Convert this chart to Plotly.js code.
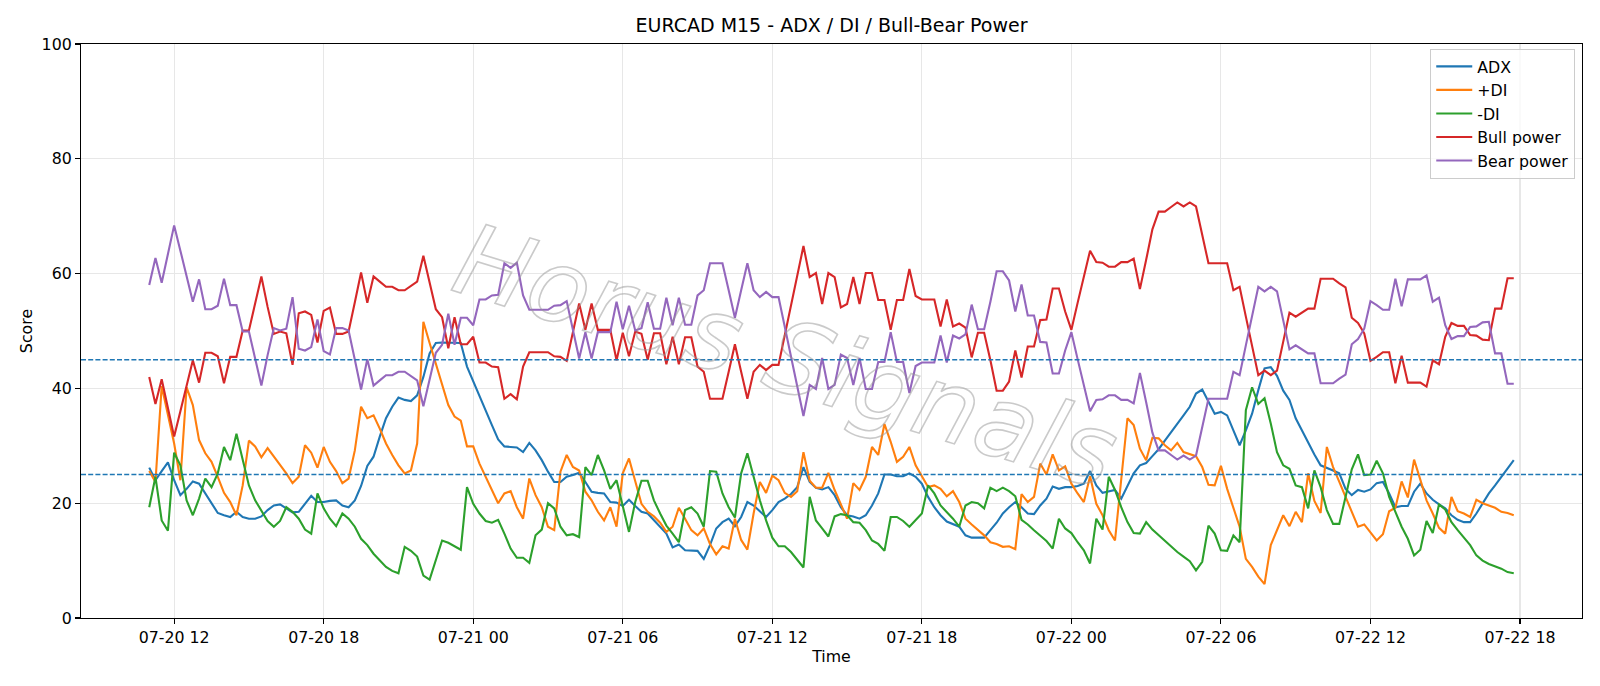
<!DOCTYPE html>
<html>
<head>
<meta charset="utf-8">
<script src="https://cdn.plot.ly/plotly-3.0.1.min.js"></script>
<style>
  html, body { margin: 0; padding: 0; background: #fff; }
  #chart { width: 1600px; height: 686px; }
</style>
</head>
<body>
<div id="chart"></div>
<script>
// EURCAD M15 indicator readings, one value per 15-minute bar
const startTime = '2025-07-20T11:00:00Z';
const stepMinutes = 15;

const adx = [
  26.2, 24.0, 25.6, 27.1, 24.0, 21.4, 22.5, 23.8, 23.4, 21.7, 19.9, 18.3, 17.9, 17.6, 18.5, 17.6, 17.3, 17.3, 17.7, 18.8,
  19.6, 19.8, 19.1, 18.4, 18.5, 19.9, 21.3, 20.2, 20.2, 20.4, 20.5, 19.6, 19.3, 20.5, 23.0, 26.5,
  28.1, 31.6, 34.8, 36.8, 38.4, 38.0, 37.8, 38.8, 42.0, 46.1, 47.9, 48.0, 48.0, 48.0, 47.9, 43.8, 41.2, 38.5, 36.2, 33.6,
  31.1, 29.9, 29.8, 29.7, 28.9, 30.5, 29.2, 27.5, 25.5, 23.7, 23.7, 24.6, 24.9, 25.3, 23.7, 22.0, 21.8,
  21.7, 20.2, 20.1, 19.5, 20.6, 19.5, 18.5, 18.2, 17.0, 15.9, 14.7, 12.3, 12.8, 11.8, 11.7, 11.7, 10.3, 12.7, 15.6, 16.7,
  17.3, 16.0, 17.6, 20.2, 19.6, 18.6, 17.6, 18.8, 20.2, 20.8, 21.6, 22.8, 26.3, 23.7, 22.7, 22.4, 22.8,
  21.4, 19.3, 17.9, 17.7, 17.3, 17.9, 19.6, 21.7, 25.0, 25.0, 24.7, 24.7, 25.2, 24.6, 23.4, 21.1, 19.3, 17.9, 16.8, 16.4,
  15.9, 14.4, 14.0, 14.0, 14.0, 15.3, 16.6, 18.2, 19.3, 20.2, 19.3, 18.2, 18.1, 19.6, 20.8, 22.9, 22.5,
  22.8, 22.8, 23.0, 23.4, 25.6, 23.1, 21.8, 22.1, 22.3, 20.8, 23.1, 25.2, 26.6, 27.0, 28.2, 29.4, 30.9, 32.3, 33.8, 35.3,
  36.8, 39.1, 39.8, 37.7, 35.6, 35.9, 35.3, 32.7, 30.1, 32.7, 35.6, 39.7, 43.5, 43.7, 42.2, 39.6,
  38.0, 34.8, 32.6, 30.5, 28.5, 26.6, 26.2, 25.7, 25.2, 22.5, 21.4, 22.3, 22.0, 22.4, 23.5, 23.7, 21.7, 19.3, 19.5, 19.5,
  22.0, 23.4, 21.7, 20.6, 19.8, 19.1, 17.9, 17.1, 16.7, 16.7, 18.2, 20.0, 21.7, 23.1, 24.6, 26.0, 27.5
];

const plusDI = [
  25.6, 23.7, 40.4, 35.6, 30.4, 24.0, 40.2, 37.1, 31.0, 28.7, 27.2, 24.6, 21.8, 20.2, 17.9, 23.1, 30.9, 29.9, 28.0, 29.6,
  28.2, 26.8, 25.2, 23.5, 24.6, 30.1, 28.8, 26.2, 29.8, 27.2, 25.6, 23.5, 24.3, 29.2, 36.8, 34.8,
  35.3, 33.0, 30.4, 28.4, 26.6, 25.2, 25.7, 30.4, 51.6, 47.9, 44.4, 40.9, 37.1, 35.1, 34.4, 29.9, 29.9, 26.9, 24.6, 22.5,
  20.0, 21.7, 22.1, 19.3, 17.3, 24.3, 21.4, 19.3, 15.9, 15.3, 25.5, 28.4, 26.3, 25.7, 22.0, 20.5, 18.5,
  17.0, 19.3, 15.9, 25.2, 27.8, 24.0, 19.9, 18.5, 17.7, 16.6, 15.0, 15.9, 19.2, 17.3, 15.3, 14.4, 15.6, 12.9, 11.1, 12.5,
  12.1, 17.3, 13.6, 11.9, 18.2, 23.7, 21.8, 24.8, 24.0, 21.8, 21.1, 22.1, 28.9, 23.9, 22.7, 22.7, 25.3,
  22.3, 19.9, 17.3, 23.5, 22.3, 24.6, 29.8, 28.4, 33.8, 30.7, 27.2, 28.1, 29.8, 26.6, 24.6, 22.8, 23.1, 22.5, 21.2, 22.1,
  20.2, 17.3, 16.3, 15.3, 14.4, 13.2, 12.9, 12.4, 12.5, 12.0, 21.6, 20.2, 21.1, 26.9, 25.0, 28.5, 25.7,
  26.4, 23.4, 21.7, 20.2, 24.7, 19.9, 17.9, 15.3, 13.5, 24.0, 34.8, 33.6, 29.5, 27.5, 31.4, 31.3, 30.1, 29.2, 30.5, 28.9,
  28.5, 28.2, 26.3, 23.2, 23.1, 26.5, 22.5, 19.3, 15.9, 10.3, 8.9, 7.2, 5.9, 12.7, 15.3, 17.9,
  16.0, 18.5, 16.7, 25.2, 20.4, 18.3, 29.8, 26.3, 23.7, 21.1, 18.2, 15.9, 16.3, 15.0, 13.5, 14.6, 18.6, 19.2, 23.8, 21.0,
  27.6, 24.1, 20.5, 18.2, 15.7, 14.7, 21.1, 18.6, 18.2, 17.6, 20.6, 20.0, 19.6, 19.2, 18.5, 18.3, 17.9
];

const minusDI = [
  19.3, 24.6, 17.0, 15.2, 28.8, 26.6, 20.5, 17.9, 20.8, 24.3, 22.8, 25.2, 29.8, 27.5, 32.1, 27.5, 23.1, 20.5, 18.8, 16.9,
  15.9, 16.9, 19.3, 18.5, 17.3, 15.4, 14.7, 21.7, 19.1, 17.3, 16.0, 18.2, 17.3, 15.9, 13.8, 12.7,
  11.2, 10.0, 8.9, 8.2, 7.8, 12.4, 11.7, 10.7, 7.4, 6.7, 10.3, 13.5, 13.1, 12.5, 11.9, 22.8, 19.9, 18.2, 16.9, 16.6,
  17.1, 14.7, 12.1, 10.5, 10.5, 9.6, 14.4, 15.4, 20.0, 19.1, 15.9, 14.4, 14.6, 14.1, 26.3, 24.9, 28.4,
  25.7, 22.5, 24.0, 19.3, 15.0, 20.2, 23.9, 23.9, 20.5, 18.2, 16.1, 14.7, 13.2, 18.8, 19.3, 18.2, 15.9, 25.6, 25.5, 21.7,
  19.3, 17.5, 25.2, 28.7, 24.6, 20.5, 17.0, 14.0, 12.5, 12.5, 11.5, 10.2, 8.8, 21.1, 17.0, 15.6, 14.2,
  17.7, 18.1, 17.9, 16.7, 16.6, 15.3, 13.5, 12.9, 11.7, 17.6, 17.6, 16.9, 15.9, 17.1, 18.2, 23.1, 21.7, 19.6, 18.5, 17.3,
  15.9, 19.6, 20.2, 20.0, 19.1, 22.7, 22.1, 22.7, 22.1, 21.2, 17.1, 16.3, 15.3, 14.4, 13.4, 12.1, 17.3,
  15.6, 14.8, 13.2, 11.8, 9.5, 17.3, 15.4, 24.6, 22.3, 19.3, 16.7, 14.8, 14.7, 16.7, 15.4, 14.4, 13.4, 12.4, 11.5, 10.7,
  9.9, 8.3, 9.8, 16.1, 14.7, 11.8, 11.7, 14.4, 13.2, 36.2, 40.2, 37.3, 38.3, 33.9, 28.9, 26.6,
  26.0, 23.1, 22.8, 19.1, 25.7, 22.8, 18.8, 16.4, 16.4, 21.1, 25.9, 28.5, 24.9, 25.0, 27.4, 25.2, 21.1, 18.5, 15.9, 13.8,
  10.9, 11.9, 16.9, 14.8, 19.8, 18.9, 16.7, 15.3, 14.0, 12.7, 10.9, 10.0, 9.4, 9.0, 8.6, 8.0, 7.8
];

const bullPower = [
  42.0, 37.3, 41.6, 36.6, 31.6, 36.0, 40.5, 44.9, 41.0, 46.2, 46.2, 45.6, 40.9, 45.5, 45.5, 50.1, 50.1, 54.8, 59.5, 54.2,
  49.5, 49.9, 49.6, 44.1, 53.1, 53.4, 52.8, 48.0, 53.5, 54.1, 49.5, 49.5, 49.9, 55.0, 60.2, 54.9,
  59.5, 58.6, 57.7, 57.7, 57.1, 57.1, 57.8, 58.6, 63.1, 58.3, 53.8, 52.4, 47.0, 52.4, 47.7, 47.7, 49.0, 44.5, 44.5, 43.8,
  43.7, 38.2, 39.0, 38.1, 43.8, 46.3, 46.3, 46.3, 46.3, 45.6, 45.5, 44.8, 49.6, 54.8, 50.2, 54.8, 50.2,
  50.2, 50.2, 44.9, 49.7, 45.6, 49.9, 49.5, 45.0, 49.6, 49.6, 44.2, 49.0, 44.2, 48.9, 48.9, 43.8, 42.9, 38.2, 38.2, 38.2,
  42.9, 47.7, 42.9, 38.2, 42.9, 44.1, 43.2, 44.1, 44.1, 49.2, 54.3, 59.5, 64.8, 59.4, 60.1, 54.7, 60.1,
  59.4, 54.1, 54.7, 59.4, 54.7, 60.1, 60.1, 55.4, 55.4, 50.2, 55.4, 55.4, 60.8, 56.1, 55.5, 55.5, 55.5, 50.8, 55.5, 50.8,
  51.3, 50.6, 45.4, 49.7, 49.7, 44.9, 39.6, 39.6, 41.2, 46.6, 41.9, 47.3, 47.3, 51.9, 52.0, 57.4, 57.4,
  53.4, 50.2, 54.9, 59.4, 64.0, 62.0, 61.9, 61.2, 61.2, 62.0, 62.0, 62.6, 57.3, 62.4, 67.7, 70.8, 70.8, 71.6, 72.4, 71.7,
  72.4, 71.7, 66.7, 61.8, 61.8, 61.8, 61.8, 57.1, 57.7, 52.5, 47.3, 42.3, 43.1, 42.3, 43.1, 48.4,
  53.2, 52.5, 53.2, 53.9, 53.9, 59.1, 59.1, 59.1, 58.3, 57.6, 52.3, 51.4, 49.6, 44.8, 45.5, 46.3, 46.3, 40.9, 45.7, 41.0,
  41.0, 41.0, 40.3, 44.9, 44.2, 49.0, 51.4, 50.9, 50.9, 49.3, 49.2, 48.5, 48.4, 53.9, 53.9, 59.2, 59.2
];

const bearPower = [
  58.0, 62.7, 58.4, 63.4, 68.4, 64.0, 59.5, 55.1, 59.0, 53.8, 53.8, 54.4, 59.1, 54.5, 54.5, 49.9, 49.9, 45.2, 40.5, 45.8,
  50.5, 50.1, 50.4, 55.9, 46.9, 46.6, 47.2, 52.0, 46.5, 45.9, 50.5, 50.5, 50.1, 45.0, 39.8, 45.1,
  40.5, 41.4, 42.3, 42.3, 42.9, 42.9, 42.2, 41.4, 36.9, 41.7, 46.2, 47.6, 53.0, 47.6, 52.3, 52.3, 51.0, 55.5, 55.5, 56.2,
  56.3, 61.8, 61.0, 61.9, 56.2, 53.7, 53.7, 53.7, 53.7, 54.4, 54.5, 55.2, 50.4, 45.2, 49.8, 45.2, 49.8,
  49.8, 49.8, 55.1, 50.3, 54.4, 50.1, 50.5, 55.0, 50.4, 50.4, 55.8, 51.0, 55.8, 51.1, 51.1, 56.2, 57.1, 61.8, 61.8, 61.8,
  57.1, 52.3, 57.1, 61.8, 57.1, 55.9, 56.8, 55.9, 55.9, 50.8, 45.7, 40.5, 35.2, 40.6, 39.9, 45.3, 39.9,
  40.6, 45.9, 45.3, 40.6, 45.3, 39.9, 39.9, 44.6, 44.6, 49.8, 44.6, 44.6, 39.2, 43.9, 44.5, 44.5, 44.5, 49.2, 44.5, 49.2,
  48.7, 49.4, 54.6, 50.3, 50.3, 55.1, 60.4, 60.4, 58.8, 53.4, 58.1, 52.7, 52.7, 48.1, 48.0, 42.6, 42.6,
  46.6, 49.8, 45.1, 40.6, 36.0, 38.0, 38.1, 38.8, 38.8, 38.0, 38.0, 37.4, 42.7, 37.6, 32.3, 29.2, 29.2, 28.4, 27.6, 28.3,
  27.6, 28.3, 33.3, 38.2, 38.2, 38.2, 38.2, 42.9, 42.3, 47.5, 52.7, 57.7, 56.9, 57.7, 56.9, 51.6,
  46.8, 47.5, 46.8, 46.1, 46.1, 40.9, 40.9, 40.9, 41.7, 42.4, 47.7, 48.6, 50.4, 55.2, 54.5, 53.7, 53.7, 59.1, 54.3, 59.0,
  59.0, 59.0, 59.7, 55.1, 55.8, 51.0, 48.6, 49.1, 49.1, 50.7, 50.8, 51.5, 51.6, 46.1, 46.1, 40.8, 40.8
];

// Reference levels drawn as dashed horizontal lines
const thresholds = [45, 25];

const seriesNames = ['ADX', '+DI', '-DI', 'Bull power', 'Bear power'];
const seriesColors = ['#1f77b4', '#ff7f0e', '#2ca02c', '#d62728', '#9467bd'];
const seriesValues = [adx, plusDI, minusDI, bullPower, bearPower];

// Bar timestamps on the 15-minute grid
function pad(n) { return String(n).padStart(2, '0'); }
const t0 = Date.parse(startTime);
function iso(ms) {
  const d = new Date(ms);
  return d.getUTCFullYear() + '-' + pad(d.getUTCMonth() + 1) + '-' + pad(d.getUTCDate()) +
    ' ' + pad(d.getUTCHours()) + ':' + pad(d.getUTCMinutes()) + ':' + pad(d.getUTCSeconds());
}
const times = adx.map((_, i) => iso(t0 + i * stepMinutes * 60000));

const traces = seriesValues.map((vals, k) => ({
  x: times,
  y: vals,
  type: 'scatter',
  mode: 'lines',
  name: seriesNames[k],
  legendgroup: 'g' + k,
  line: { color: seriesColors[k], width: 2.1 },
  hoverinfo: 'x+y+name'
}));

// pad the time axis by 5% of the span on each side
const spanMs = (times.length - 1) * stepMinutes * 60000;
const tStart = t0 - 0.05 * spanMs;
const tEnd = t0 + spanMs + 0.05 * spanMs;

const shapes = thresholds.map(v => ({
  type: 'line', xref: 'paper', x0: 0, x1: 1, yref: 'y', y0: v, y1: v,
  line: { color: '#1f77b4', width: 1.4, dash: '5px,2.2px' }, layer: 'above'
}));

const font = { family: 'DejaVu Sans, sans-serif', size: 15.8, color: '#000' };

const layout = {
  width: 1600,
  height: 686,
  margin: { l: 80.6, r: 18.4, t: 43.5, b: 68 },
  paper_bgcolor: '#fff',
  plot_bgcolor: '#fff',
  font: font,
  title: {
    text: 'EURCAD M15 - ADX / DI / Bull-Bear Power',
    font: { family: 'DejaVu Sans, sans-serif', size: 19, color: '#000' },
    x: 0.5, xref: 'paper', xanchor: 'center',
    y: 1 - 25 / 686, yref: 'container', yanchor: 'middle'
  },
  xaxis: {
    type: 'date',
    range: [iso(tStart), iso(tEnd)],
    tickformat: '%m-%d %H',
    tick0: '2025-07-20 00:00',
    dtick: 6 * 3600 * 1000,
    showgrid: true, gridcolor: '#e7e7e7', gridwidth: 1.1,
    showline: true, mirror: true, linecolor: '#000', linewidth: 1.1,
    ticks: 'outside', ticklen: 5, tickwidth: 1.1, tickcolor: '#000',
    zeroline: false,
    title: { text: 'Time', font: font, standoff: 4 },
    automargin: false
  },
  yaxis: {
    range: [0, 100],
    tick0: 0, dtick: 20,
    showgrid: true, gridcolor: '#e7e7e7', gridwidth: 1.1,
    showline: true, mirror: true, linecolor: '#000', linewidth: 1.1,
    ticks: 'outside', ticklen: 5, tickwidth: 1.1, tickcolor: '#000',
    zeroline: false,
    title: { text: 'Score', font: font, standoff: 5 },
    automargin: false
  },
  legend: {
    x: 0.9955, xanchor: 'right', y: 0.992, yanchor: 'top',
    bgcolor: 'rgba(255,255,255,0.8)', bordercolor: '#cccccc', borderwidth: 1,
    font: font, tracegroupgap: 0, itemwidth: 36
  },
  shapes: shapes,
  annotations: [{
    text: 'Horus Signals',
    xref: 'paper', yref: 'paper',
    x: (786 - 80.6) / 1501, y: (618 - 356) / 574.5,
    xanchor: 'center', yanchor: 'middle',
    showarrow: false, textangle: 17,
    font: { family: 'DejaVu Sans, sans-serif', size: 100, color: 'rgba(0,0,0,0)' },
    opacity: 1
  }],
  showlegend: true
};

Plotly.newPlot('chart', traces, layout, { displayModeBar: false, staticPlot: true }).then(gd => {
  // outlined, oblique watermark lettering
  gd.querySelectorAll('.annotation-text').forEach(el => {
    el.style.fill = 'none';
    el.style.stroke = 'rgba(150,150,150,0.5)';
    el.style.strokeWidth = '1.6px';
    el.style.fontStyle = 'oblique';
  });
});
</script>
</body>
</html>
